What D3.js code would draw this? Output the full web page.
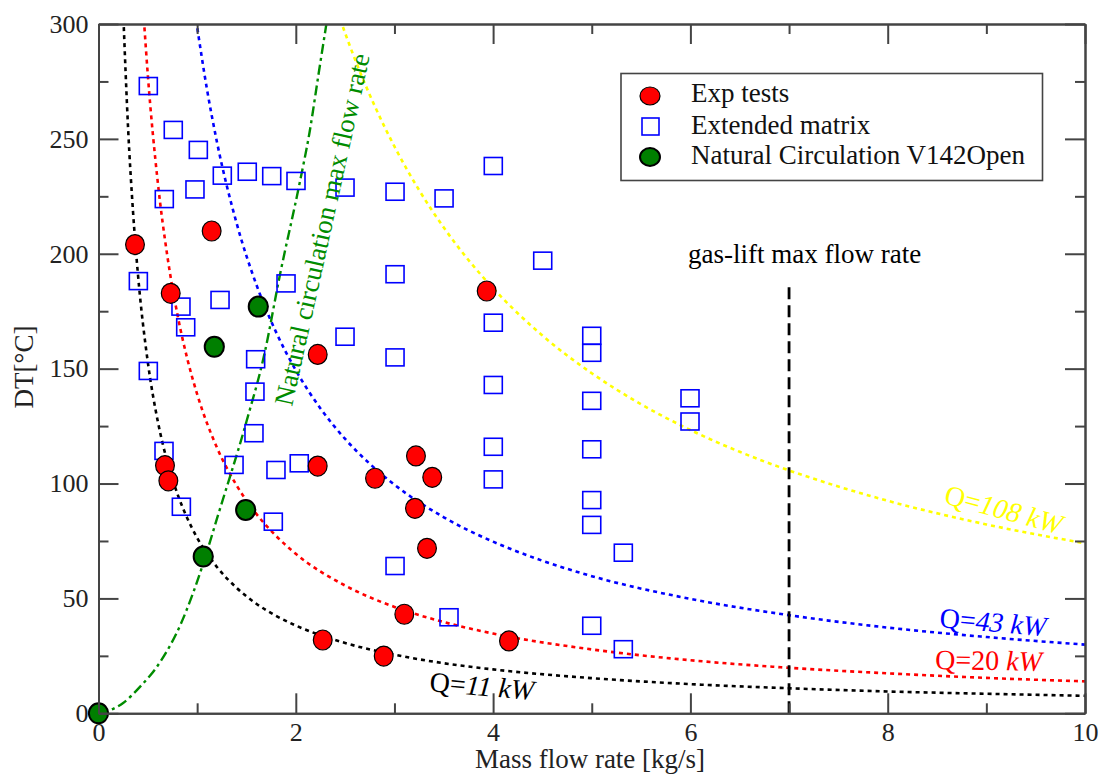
<!DOCTYPE html>
<html><head><meta charset="utf-8">
<script src="https://cdn.jsdelivr.net/npm/d3@7"></script>
<style>
body{margin:0;background:#fff}
text{font-family:"Liberation Serif","Times New Roman",Times,serif}
</style>
</head><body>
<svg id="chart" width="1102" height="776"></svg>
<script>
// ---- data ----
const xTicks = [0, 2, 4, 6, 8, 10];
const xMinor = [1, 3, 5, 7, 9];
const yTicks = [0, 50, 100, 150, 200, 250, 300];
const yMinor = [25, 75, 125, 175, 225, 275];

const expTests = [
  [0.37,204],[0.732,182.8],[1.147,209.9],[0.674,107.8],[0.708,101.2],
  [2.222,156.2],[2.222,107.6],[2.803,102.3],[3.218,112],[3.383,102.7],
  [3.208,89.2],[3.33,71.8],[3.935,183.8],[3.1,43.1],[2.273,31.9],
  [2.891,24.9],[4.161,31.5]
];
const extendedMatrix = [
  [0.505,273],[0.758,253.9],[1.012,245.2],[0.667,223.8],[0.978,228],
  [1.255,234],[1.508,235.7],[1.756,233.8],[2.002,231.7],[2.499,228.8],
  [3.006,227],[3.503,224.1],[4.002,238.2],[0.404,188.1],[0.836,177],
  [0.884,168],[1.232,179.9],[1.901,187.1],[0.505,149],[1.593,154.1],
  [1.586,140],[1.576,121.9],[1.374,108.1],[0.664,114.2],[0.84,89.9],
  [1.799,105.9],[2.035,108.8],[1.772,83.4],[2.499,163.9],[3.006,191.1],
  [3.006,154.9],[4.002,170],[4.002,142.9],[4.002,116],[4.002,101.8],
  [4.503,197],[5.0,164.3],[5.0,156.9],[5.0,136],[5.0,114.9],
  [5.0,92.8],[5.0,82],[5.0,38.1],[5.32,69.9],[5.996,137.1],
  [5.996,127],[3.006,64.1],[3.553,41.8],[5.32,27.9]
];
const naturalCirc = [[0,0],[1.062,68.2],[1.492,88.5],[1.174,159.5],[1.62,177]];

const q11 = [[0.25,305.6],[0.3,254.6],[0.35,218.3],[0.4,191],[0.5,152.8],[0.6,127.3],[0.7,109.1],[0.8,95.5],[0.9,84.9],[1.0,76.4],[1.2,63.7],[1.4,54.6],[1.6,47.7],[1.8,42.4],[2.0,38.2],[2.5,30.6],[3.0,25.5],[3.5,21.8],[4.0,19.1],[5.0,15.3],[6.0,12.7],[7.0,10.9],[8.0,9.5],[9.0,8.5],[10,7.6]];
const q20 = [[0.46,302],[0.5,277.8],[0.6,231.5],[0.7,198.4],[0.8,173.6],[0.9,154.3],[1.0,138.9],[1.2,115.7],[1.4,99.2],[1.6,86.8],[1.8,77.2],[2.0,69.4],[2.5,55.6],[3.0,46.3],[3.5,39.7],[4.0,34.7],[5.0,27.8],[6.0,23.1],[7.0,19.8],[8.0,17.4],[9.0,15.4],[10,13.9]];
const q43 = [[0.99,301.6],[1.1,271.5],[1.2,248.8],[1.4,213.3],[1.6,186.6],[1.8,165.9],[2.0,149.3],[2.25,132.7],[2.5,119.4],[2.75,108.6],[3.0,99.5],[3.5,85.3],[4.0,74.7],[4.5,66.4],[5.0,59.7],[6.0,49.8],[7.0,42.7],[8.0,37.3],[9.0,33.2],[10,29.9]];
const q108 = [[2.45,302],[2.6,284.6],[2.8,264.3],[3.0,246.7],[3.25,227.7],[3.5,211.4],[3.75,197.3],[4.0,185],[4.5,164.4],[5.0,148],[5.5,134.5],[6.0,123.3],[6.5,113.8],[7.0,105.7],[7.5,98.7],[8.0,92.5],[9.0,82.2],[10,74]];
const ncMaxFlow = [[0,0],[0.12,1.4],[0.25,4.5],[0.42,11.5],[0.62,22],[0.83,38.5],[0.96,52.5],[1.06,65],[1.21,86],[1.5,127],[1.68,156],[1.84,191],[2.04,231],[2.14,253],[2.23,278],[2.31,300]];
const gasLift = [[7,0],[7,187]];

const curveSeries = [
  {data:q11,  color:"#000000", label:"Q=11 ", unit:"kW", lx:429, ly:691, rot:5, numItalic:true},
  {data:q20,  color:"#ff0000", label:"Q=20 ", unit:"kW", lx:935, ly:669, rot:1, numItalic:false},
  {data:q43,  color:"#0000ff", label:"Q=43 ", unit:"kW", lx:939, ly:627, rot:5, numItalic:true},
  {data:q108, color:"#ffff00", label:"Q=108 ", unit:"kW", lx:943, ly:503, rot:15, numItalic:true}
];

// ---- layout ----
const svg = d3.select("#chart");
const X0 = 98.5, X1 = 1085, Y0 = 713.3, Y1 = 24;
const x = d3.scaleLinear().domain([0,10]).range([X0,X1]);
const y = d3.scaleLinear().domain([0,300]).range([Y0,Y1]);
const axisColor = "#444";

svg.append("rect").attr("width",1102).attr("height",776).attr("fill","#fff");
svg.append("clipPath").attr("id","plot").append("rect")
  .attr("x",X0).attr("y",Y1).attr("width",X1-X0).attr("height",Y0-Y1);

const line = d3.line().x(d=>x(d[0])).y(d=>y(d[1])).curve(d3.curveMonotoneX);
const gCurves = svg.append("g").attr("clip-path","url(#plot)");

curveSeries.forEach(s=>{
  gCurves.append("path").attr("d",line(s.data)).attr("fill","none")
    .attr("stroke",s.color).attr("stroke-width",2.6).attr("stroke-dasharray","4,4");
});
gCurves.append("path").attr("d",line(ncMaxFlow)).attr("fill","none")
  .attr("stroke","#008c00").attr("stroke-width",2.4).attr("stroke-dasharray","10,4,3,4");
gCurves.append("path").attr("d",d3.line().x(d=>x(d[0])).y(d=>y(d[1]))(gasLift)).attr("fill","none")
  .attr("stroke","#000").attr("stroke-width",2.8).attr("stroke-dasharray","12,6");

// markers
svg.append("g").selectAll("rect").data(extendedMatrix).join("rect")
  .attr("x",d=>x(d[0])-9).attr("y",d=>y(d[1])-8.5).attr("width",18).attr("height",17)
  .attr("fill","none").attr("stroke","#0000ff").attr("stroke-width",1.6);
svg.append("g").selectAll("ellipse").data(expTests).join("ellipse")
  .attr("cx",d=>x(d[0])).attr("cy",d=>y(d[1])).attr("rx",9.4).attr("ry",10)
  .attr("fill","#ff0000").attr("stroke","#000").attr("stroke-width",1.2);
svg.append("g").selectAll("ellipse").data(naturalCirc).join("ellipse")
  .attr("cx",d=>x(d[0])).attr("cy",d=>y(d[1])).attr("rx",9.6).attr("ry",10)
  .attr("fill","#007f00").attr("stroke","#000").attr("stroke-width",2);

// curve labels
curveSeries.forEach(s=>{
  const t = svg.append("text").attr("transform",`translate(${s.lx},${s.ly}) rotate(${s.rot})`)
    .attr("font-size",28).attr("fill",s.color);
  const num = s.label.replace("Q=","");
  t.append("tspan").text("Q=");
  t.append("tspan").attr("font-style",s.numItalic?"italic":"normal").text(num);
  t.append("tspan").attr("font-style","italic").text(s.unit);
});
svg.append("text").attr("transform","translate(292,407) rotate(-77.5)")
  .attr("font-size",27).attr("fill","#008c00").text("Natural circulation max flow rate");
svg.append("text").attr("x",688).attr("y",263).attr("font-size",27).attr("fill","#000")
  .text("gas-lift max flow rate");

// axes
function styleAxis(g){
  g.select(".domain").attr("stroke",axisColor).attr("stroke-width",2);
  g.selectAll(".tick line").attr("stroke",axisColor).attr("stroke-width",2);
  g.selectAll(".tick text").attr("font-size",26).attr("fill","#222")
    .attr("font-family",'"Liberation Serif","Times New Roman",serif');
}
svg.append("g").attr("transform",`translate(0,${Y0})`)
  .call(d3.axisBottom(x).tickValues(xTicks).tickFormat(d3.format("d")).tickSizeInner(-20).tickSizeOuter(0).tickPadding(9))
  .call(styleAxis);
svg.append("g").attr("transform",`translate(0,${Y0})`)
  .call(d3.axisBottom(x).tickValues(xMinor).tickFormat("").tickSizeInner(-10).tickSizeOuter(0))
  .call(styleAxis);
svg.append("g").attr("transform",`translate(0,${Y1})`)
  .call(d3.axisTop(x).tickValues(xTicks).tickFormat("").tickSizeInner(-20).tickSizeOuter(0))
  .call(styleAxis);
svg.append("g").attr("transform",`translate(0,${Y1})`)
  .call(d3.axisTop(x).tickValues(xMinor).tickFormat("").tickSizeInner(-10).tickSizeOuter(0))
  .call(styleAxis);
svg.append("g").attr("transform",`translate(${X0},0)`)
  .call(d3.axisLeft(y).tickValues(yTicks).tickFormat(d3.format("d")).tickSizeInner(-20).tickSizeOuter(0).tickPadding(10))
  .call(styleAxis);
svg.append("g").attr("transform",`translate(${X0},0)`)
  .call(d3.axisLeft(y).tickValues(yMinor).tickFormat("").tickSizeInner(-10).tickSizeOuter(0))
  .call(styleAxis);
svg.append("g").attr("transform",`translate(${X1},0)`)
  .call(d3.axisRight(y).tickValues(yTicks).tickFormat("").tickSizeInner(-20).tickSizeOuter(0))
  .call(styleAxis);
svg.append("g").attr("transform",`translate(${X1},0)`)
  .call(d3.axisRight(y).tickValues(yMinor).tickFormat("").tickSizeInner(-10).tickSizeOuter(0))
  .call(styleAxis);

// axis titles
svg.append("text").attr("x",590).attr("y",768).attr("text-anchor","middle")
  .attr("font-size",27).attr("fill","#222").text("Mass flow rate [kg/s]");
svg.append("text").attr("transform","translate(33,367) rotate(-90)").attr("text-anchor","middle")
  .attr("font-size",27).attr("fill","#222").text("DT[°C]");

// legend
const legendItems = [
  {name:"Exp tests", type:"circle", fill:"#ff0000", sw:1.2, cy:96, ty:102},
  {name:"Extended matrix", type:"square", fill:"none", sw:1.6, cy:127, ty:134},
  {name:"Natural Circulation V142Open", type:"circle", fill:"#007f00", sw:2, cy:157, ty:164}
];
const lg = svg.append("g");
lg.append("rect").attr("x",621).attr("y",73.5).attr("width",421.5).attr("height",107)
  .attr("fill","#fff").attr("stroke",axisColor).attr("stroke-width",1.6);
legendItems.forEach(it=>{
  if(it.type==="circle"){
    lg.append("ellipse").attr("cx",650).attr("cy",it.cy).attr("rx",10).attr("ry",9)
      .attr("fill",it.fill).attr("stroke","#000").attr("stroke-width",it.sw);
  } else {
    lg.append("rect").attr("x",642).attr("y",it.cy-9).attr("width",17).attr("height",17)
      .attr("fill","none").attr("stroke","#0000ff").attr("stroke-width",it.sw);
  }
  lg.append("text").attr("x",691).attr("y",it.ty).attr("font-size",27).attr("fill","#111").text(it.name);
});
</script>
</body></html>
